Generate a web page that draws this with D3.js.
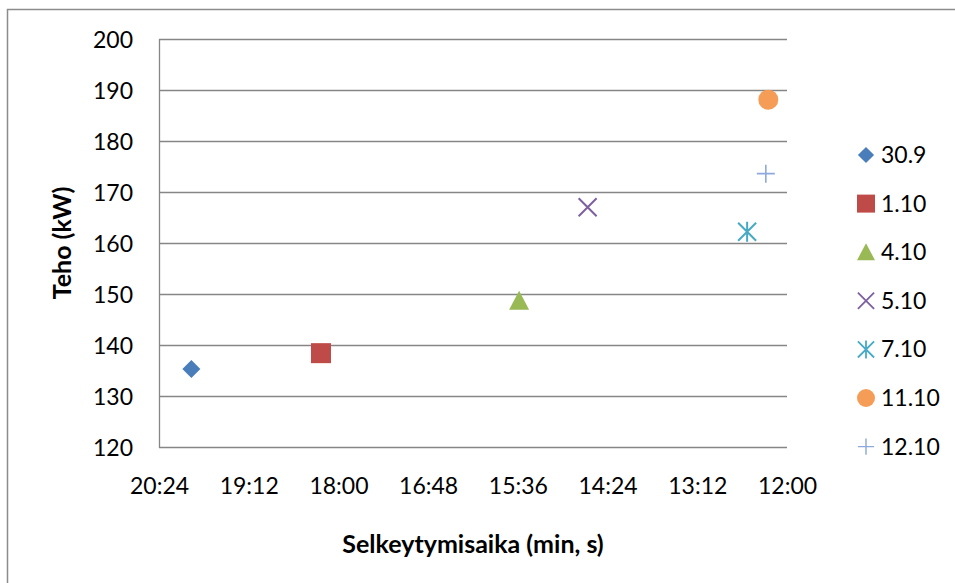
<!DOCTYPE html>
<html lang="en">
<head>
<meta charset="UTF-8">
<title>Teho vs selkeytymisaika</title>
<script src="https://d3js.org/d3.v7.min.js"></script>
<style>
    body { margin: 0; background: #fff; }
    svg text { font-family: Lato, "Open Sans", sans-serif; fill: #000; }
</style>
</head>
<body>
<div id="chart"></div>
<script>
    // series names (dates) and their values: time as "mm:ss", power in kW
    const seriesNames = ["30.9", "1.10", "4.10", "5.10", "7.10", "11.10", "12.10"];
    const times = ["19:58", "18:14", "15:35", "14:40", "12:32", "12:15", "12:17"];
    const powers = [135.3, 138.4, 148.7, 167.0, 162.2, 188.1, 173.6];
    const xTickLabels = ["20:24", "19:12", "18:00", "16:48", "15:36", "14:24", "13:12", "12:00"];
    const yTicks = [120, 130, 140, 150, 160, 170, 180, 190, 200];

    const colors = ["#4a7ebb", "#be4b48", "#98b954", "#7d60a0", "#46aac5", "#f59d56", "#8ea9db"];
    const shapes = ["diamond", "square", "triangle", "x", "star", "circle", "plus"];

    const toSec = s => { const [m, sec] = s.split(":").map(Number); return m * 60 + sec; };

    const width = 955, height = 583;
    const plot = { left: 159, right: 787, top: 39, bottom: 447 };

    const svg = d3.select("#chart").append("svg")
        .attr("width", width).attr("height", height);

    // outer chart border
    svg.append("rect")
        .attr("x", 7.5).attr("y", 9.5)
        .attr("width", width).attr("height", height)
        .attr("fill", "none").attr("stroke", "#8c8c8c").attr("stroke-width", 1.5);

    const x = d3.scaleLinear()
        .domain([toSec(xTickLabels[0]), toSec(xTickLabels[xTickLabels.length - 1])])
        .range([plot.left, plot.right]);
    const y = d3.scaleLinear().domain([120, 200]).range([plot.bottom, plot.top]);

    // gridlines
    svg.append("g").selectAll("line")
        .data(yTicks)
        .join("line")
        .attr("x1", plot.left).attr("x2", plot.right)
        .attr("y1", d => Math.round(y(d)) + 0.5).attr("y2", d => Math.round(y(d)) + 0.5)
        .attr("stroke", "#868686").attr("stroke-width", 1.3);

    // y axis line
    svg.append("line")
        .attr("x1", plot.left + 0.5).attr("x2", plot.left + 0.5)
        .attr("y1", plot.top).attr("y2", plot.bottom + 1)
        .attr("stroke", "#868686").attr("stroke-width", 1.3);

    const yAxis = d3.axisLeft(y).tickValues(yTicks).tickSize(0).tickPadding(26);
    const gy = svg.append("g").attr("transform", `translate(${plot.left},0)`).call(yAxis);
    gy.select(".domain").remove();
    gy.selectAll("text").style("font-size", "23px").attr("dy", "0.35em");

    const xAxis = d3.axisBottom(x)
        .tickValues(xTickLabels.map(toSec))
        .tickFormat((d, i) => xTickLabels[i])
        .tickSize(0).tickPadding(31);
    const gx = svg.append("g").attr("transform", `translate(0,${plot.bottom})`).call(xAxis);
    gx.select(".domain").remove();
    gx.selectAll("text").style("font-size", "23px");

    // axis titles
    svg.append("text")
        .attr("transform", `translate(71,243) rotate(-90)`)
        .attr("text-anchor", "middle")
        .style("font-size", "25px").style("font-weight", "bold")
        .text("Teho (kW)");
    svg.append("text")
        .attr("x", 473).attr("y", 553)
        .attr("text-anchor", "middle")
        .style("font-size", "25px").style("font-weight", "bold")
        .text("Selkeytymisaika (min, s)");

    function drawMarker(g, shape, color) {
        if (shape === "diamond") {
            g.append("path").attr("d", "M0,-9L9,0L0,9L-9,0Z").attr("fill", color);
        } else if (shape === "square") {
            g.append("rect").attr("x", -10).attr("y", -10).attr("width", 20).attr("height", 20).attr("fill", color);
        } else if (shape === "triangle") {
            g.append("path").attr("d", "M0,-10L10,9L-10,9Z").attr("fill", color);
        } else if (shape === "circle") {
            g.append("circle").attr("r", 10).attr("fill", color);
        } else if (shape === "x") {
            g.append("path").attr("d", "M-9,-9L9,9M9,-9L-9,9")
                .attr("stroke", color).attr("stroke-width", 2).attr("fill", "none");
        } else if (shape === "star") {
            g.append("path").attr("d", "M-9,-9L9,9M9,-9L-9,9M0,-10L0,10")
                .attr("stroke", color).attr("stroke-width", 2).attr("fill", "none");
        } else if (shape === "plus") {
            g.append("path").attr("d", "M-9,0L9,0M0,-9L0,9")
                .attr("stroke", color).attr("stroke-width", 1.6).attr("fill", "none");
        }
    }

    // points
    seriesNames.forEach((name, i) => {
        const g = svg.append("g")
            .attr("transform", `translate(${x(toSec(times[i]))},${y(powers[i])})`);
        drawMarker(g, shapes[i], colors[i]);
    });

    // legend
    const legend = svg.append("g").attr("transform", "translate(866,155)");
    seriesNames.forEach((name, i) => {
        const row = legend.append("g").attr("transform", `translate(0,${i * 48.6})`);
        const m = row.append("g").attr("transform", "scale(0.9)");
        drawMarker(m, shapes[i], colors[i]);
        row.append("text")
            .attr("x", 15).attr("dy", "0.35em")
            .style("font-size", "23px")
            .text(name);
    });
</script>
</body>
</html>
